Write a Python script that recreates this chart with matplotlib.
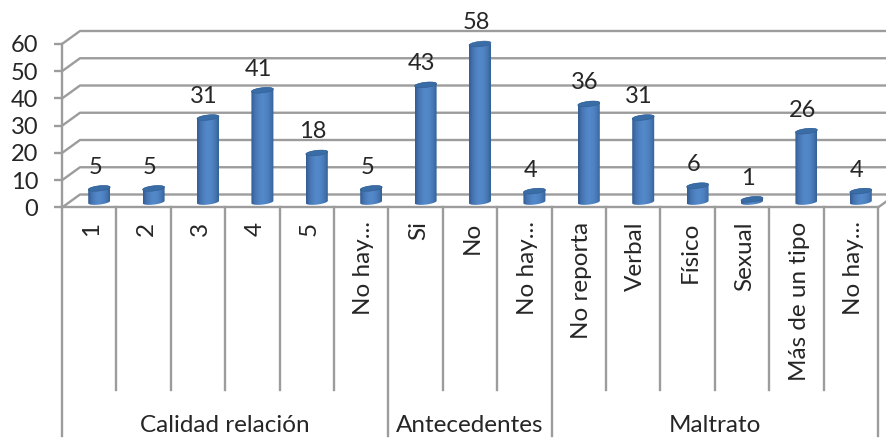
import numpy as np
import matplotlib
matplotlib.use("Agg")
import matplotlib.pyplot as plt
from matplotlib.patches import PathPatch, Polygon
from matplotlib.path import Path

categories = ["1", "2", "3", "4", "5", "No hay...",
              "Si", "No", "No hay...",
              "No reporta", "Verbal", "Físico", "Sexual", "Más de un tipo", "No hay..."]
values = [5, 5, 31, 41, 18, 5, 43, 58, 4, 36, 31, 6, 1, 26, 4]
groups = ["Calidad relación", "Antecedentes", "Maltrato"]
group_edges = [0, 6, 9, 15]
y_ticks = [0, 10, 20, 30, 40, 50, 60]

W, H = 886, 438
LEFT, RIGHT, BOTTOM, TOP = 62, 878, 207.5, 44
GRAY = "#9c9c9c"
TEXT = "#262626"
LW = 1.7

plt.rcParams["font.family"] = ["Lato", "DejaVu Sans"]

fig = plt.figure(figsize=(W / 100, H / 100), dpi=100)
ax = fig.add_axes([LEFT / W, 1 - BOTTOM / H, (RIGHT - LEFT) / W, (BOTTOM - TOP) / H])
ax.set_xlim(0, 15)
ax.set_ylim(0, 60)

# pixels -> data units
sx = 15 / (RIGHT - LEFT)
sy = 60 / (BOTTOM - TOP)

# back wall and floor
dx, dy = 18 * sx, 13 * sy
for v in y_ticks:
    ax.plot([0, dx, 16], [v, v + dy, v + dy], color=GRAY, lw=LW, clip_on=False, zorder=1)
ax.plot([15, 15 + dx], [0, dy], color=GRAY, lw=LW, clip_on=False, zorder=1)

# separators under the axis
for i in range(16):
    low = -84 if i in group_edges else -67
    ax.plot([i, i], [0, low], color=GRAY, lw=LW, clip_on=False, zorder=1)

for name in ["top", "right"]:
    ax.spines[name].set_visible(False)
for name in ["left", "bottom"]:
    ax.spines[name].set_color(GRAY)
    ax.spines[name].set_linewidth(LW)
ax.patch.set_alpha(0)

ax.set_yticks(y_ticks)
ax.tick_params(axis="y", length=6, width=LW, color=GRAY, pad=11, labelsize=17, labelcolor=TEXT)
ax.set_xticks(np.arange(15) + 0.55)
ax.set_xticklabels(categories, rotation=90, fontsize=17.5, color=TEXT, va="top", ha="center")
ax.tick_params(axis="x", length=0, pad=10)

for k, name in enumerate(groups):
    ax.text((group_edges[k] + group_edges[k + 1]) / 2, -80, name, ha="center", va="center",
            fontsize=17.5, color=TEXT, clip_on=False)

# cylinders
bar_w = 22 * sx
bar_dx, bar_dy = 10 * sx, 5.5 * sy
t = np.linspace(0, 2 * np.pi, 60)
body = np.array([[0.20, 0.36, 0.57], [0.27, 0.46, 0.70], [0.31, 0.51, 0.76],
                 [0.33, 0.54, 0.79], [0.31, 0.52, 0.77], [0.28, 0.47, 0.71], [0.21, 0.38, 0.59]])
grad = np.array([[np.interp(p, np.linspace(0, 1, 7), body[:, c]) for c in range(3)]
                 for p in np.linspace(0, 1, 40)])[None, :, :]


def ellipse(cx, cy):
    xs = cx + bar_w / 2 * np.cos(t)
    ys = cy + (2.6 * np.sin(t) + 1.2 * np.cos(t)) * sy
    return np.column_stack([xs, ys])


for i, v in enumerate(values):
    cx = i + 0.5 + bar_dx
    base = bar_dy
    top = v + bar_dy
    low = ellipse(cx, base)
    high = ellipse(cx, top)
    lower = low[(t >= np.pi) & (t <= 2 * np.pi)]
    upper = high[t <= np.pi]
    path = Path(np.vstack([lower, upper, lower[:1]]))
    im = ax.imshow(grad, extent=[cx - bar_w / 2, cx + bar_w / 2, base - 5, top + 5],
                   aspect="auto", zorder=3, clip_on=True)
    patch = PathPatch(path, transform=ax.transData, fc="none", ec="none")
    ax.add_patch(patch)
    im.set_clip_path(patch)
    ax.add_patch(Polygon(high, closed=True, fc="#3a6ca6", ec="#315d92", lw=0.4, zorder=4, clip_on=False))
    ax.text(cx - 4 * sx, top + 21 * sy, str(v), ha="center", va="center", fontsize=17,
            color=TEXT, zorder=5, clip_on=False)

ax.set_xlim(0, 15)
ax.set_ylim(0, 60)
fig.savefig("out.png", dpi=100)
